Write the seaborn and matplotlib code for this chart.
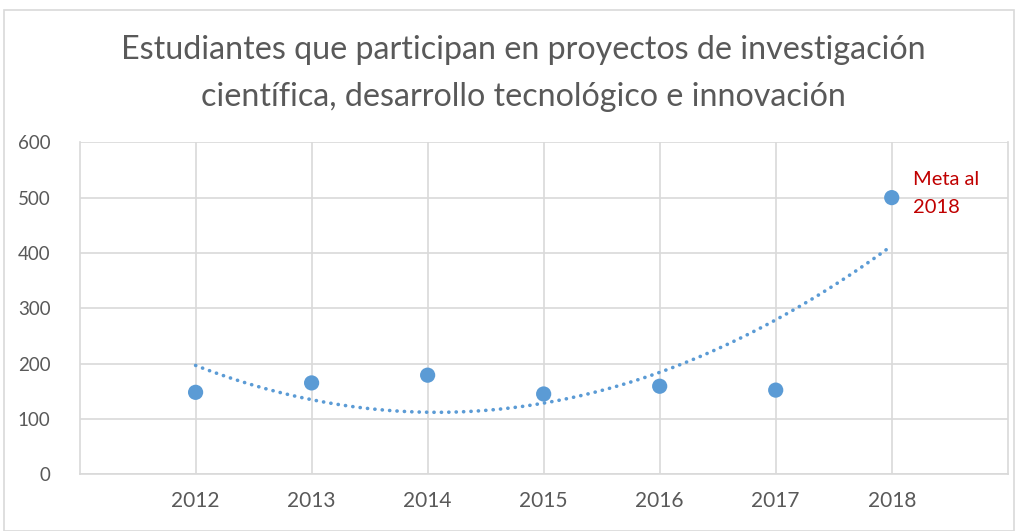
import numpy as np
import pandas as pd
import matplotlib
matplotlib.use("Agg")
import matplotlib.pyplot as plt
import seaborn as sns

# -----------------------------
# Data
# -----------------------------
years = [2012, 2013, 2014, 2015, 2016, 2017, 2018]
students = [148, 165, 179, 145, 159, 152, 500]
title_lines = ["Estudiantes que participan en proyectos de investigación",
               "científica, desarrollo tecnológico e innovación"]
goal_label = "Meta al\n2018"

df = pd.DataFrame({"year": years, "students": students})

sns.set_theme(style="white")
plt.rcParams["font.family"] = ["Lato", "DejaVu Sans"]

blue = "#5B9BD5"
grey_text = "#595959"
grid_col = "#D9D9D9"

fig = plt.figure(figsize=(10.2, 5.31), dpi=100)
ax = fig.add_axes([0.078, 0.107, 0.91, 0.625])

# trendline (polynomial, order 2)
sns.regplot(data=df, x="year", y="students", order=2, ci=None, scatter=False,
            ax=ax, line_kws=dict(color=blue, lw=2.6, linestyle=(0, (0.05, 2.0)),
                                 dash_capstyle="round"))

sns.scatterplot(data=df, x="year", y="students", ax=ax, s=120,
                color=blue, edgecolor="none", zorder=3)

ax.set_xlim(2011, 2019)
ax.set_ylim(0, 600)
ax.set_xticks(years)
ax.set_xticklabels([str(y) for y in years])
ax.set_yticks(range(0, 601, 100))
ax.set_xlabel("")
ax.set_ylabel("")
ax.grid(True, color=grid_col, lw=1.2)
ax.set_axisbelow(True)
for side in ["left", "right", "bottom"]:
    ax.spines[side].set_color(grid_col)
    ax.spines[side].set_linewidth(1.2)
ax.spines["top"].set_visible(False)
ax.tick_params(axis="both", length=0, colors=grey_text)
ax.tick_params(axis="x", pad=12, labelsize=15)
ax.tick_params(axis="y", pad=21, labelsize=13.5)

ax.annotate(goal_label, xy=(years[-1], students[-1]), xytext=(15, 3),
            textcoords="offset points", color="#C00000", fontsize=14.5,
            va="center", ha="left", linespacing=1.75)

fig.text(0.513, 0.905, title_lines[0], ha="center", va="center",
         fontsize=23.2, color=grey_text)
fig.text(0.513, 0.818, title_lines[1], ha="center", va="center",
         fontsize=23.2, color=grey_text)

# outer chart border
fig.patches.append(plt.Rectangle((0.004, 0.0), 0.99, 0.982, transform=fig.transFigure,
                                 fill=False, edgecolor=grid_col, lw=1.2))

fig.savefig("out.png", dpi=100)
